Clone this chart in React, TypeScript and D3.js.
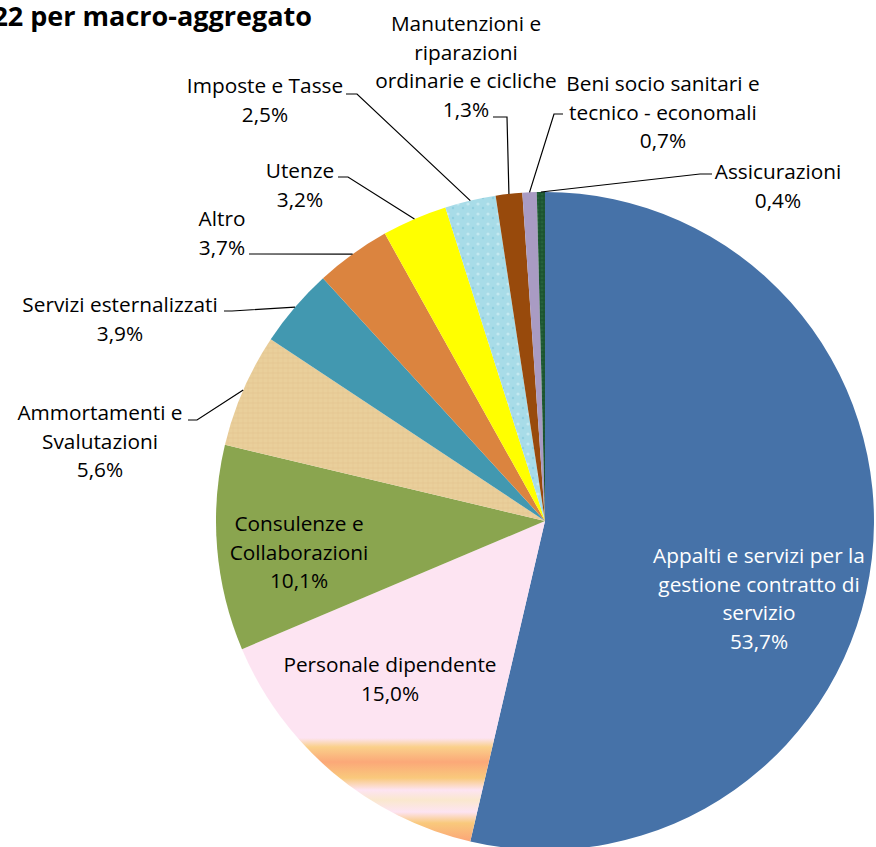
import React from "react";
import * as d3 from "d3";

const categories = [
  "Appalti e servizi per la gestione contratto di servizio",
  "Personale dipendente",
  "Consulenze e Collaborazioni",
  "Ammortamenti e Svalutazioni",
  "Servizi esternalizzati",
  "Altro",
  "Utenze",
  "Imposte e Tasse",
  "Manutenzioni e riparazioni ordinarie e cicliche",
  "Beni socio sanitari e tecnico - economali",
  "Assicurazioni",
];
const values = [53.7, 15.0, 10.1, 5.6, 3.9, 3.7, 3.2, 2.5, 1.3, 0.7, 0.4];
const labelLines = [
  ["Appalti e servizi per la", "gestione contratto di", "servizio"],
  ["Personale dipendente"],
  ["Consulenze e", "Collaborazioni"],
  ["Ammortamenti e", "Svalutazioni"],
  ["Servizi esternalizzati"],
  ["Altro"],
  ["Utenze"],
  ["Imposte e Tasse"],
  ["Manutenzioni e", "riparazioni", "ordinarie e cicliche"],
  ["Beni socio sanitari e", "tecnico - economali"],
  ["Assicurazioni"],
];
const fills = [
  "#4672A8",
  "url(#gradPersonale)",
  "#8AA54F",
  "url(#patPapyrus)",
  "#4298B0",
  "#DB843F",
  "#FFFF00",
  "url(#patDrops)",
  "#984A0C",
  "#A99BC3",
  "url(#patMarble)",
];

// layout of labels (center x, first baseline y), leader start & hook
type Lay = { cx: number; y: number; color?: string; lead?: { x: number; y: number; hx: number } };
const layout: Lay[] = [
  { cx: 759, y: 563, color: "#fff" },
  { cx: 390, y: 672 },
  { cx: 299, y: 531 },
  { cx: 100, y: 420, lead: { x: 188, y: 420, hx: 197 } },
  { cx: 120, y: 312, lead: { x: 224, y: 311, hx: 232 } },
  { cx: 222, y: 226, lead: { x: 249, y: 254, hx: 258 } },
  { cx: 300, y: 178, lead: { x: 338, y: 177, hx: 348 } },
  { cx: 265, y: 93, lead: { x: 346, y: 94, hx: 357 } },
  { cx: 466, y: 31, lead: { x: 493, y: 117, hx: 507 } },
  { cx: 663, y: 91, lead: { x: 563, y: 114, hx: 554 } },
  { cx: 778, y: 179, lead: { x: 712, y: 174, hx: 700 } },
];

const W = 876;
const H = 847;
const CX = 545;
const CY = 521;
const R = 329;
const LH = 28.7;

export default function App() {
  const pie = d3
    .pie<number>()
    .sort(null)
    .value((d) => d);
  const arcs = pie(values);
  const arc = d3.arc<d3.PieArcDatum<number>>().innerRadius(0).outerRadius(R);
  const fmt = (v: number) => v.toFixed(1).replace(".", ",") + "%";

  return (
    <svg
      width={W}
      height={H}
      style={{ position: "absolute", left: 0, top: 0, background: "#fff" }}
      fontFamily="'Open Sans', Lato, sans-serif"
    >
      <defs>
        <linearGradient id="gradPersonale" gradientUnits="userSpaceOnUse" x1="0" y1="0" x2="0" y2={R}>
          <stop offset="0.0" stopColor="#FDE4F2" />
          <stop offset={(738 - CY) / R} stopColor="#FDE4F2" />
          <stop offset={(747 - CY) / R} stopColor="#FAD08A" />
          <stop offset={(762 - CY) / R} stopColor="#FBA878" />
          <stop offset={(778 - CY) / R} stopColor="#F9C97C" />
          <stop offset={(790 - CY) / R} stopColor="#FDE4F2" />
          <stop offset={(800 - CY) / R} stopColor="#FAE8CE" />
          <stop offset={(812 - CY) / R} stopColor="#FDE4F2" />
          <stop offset={(823 - CY) / R} stopColor="#F9C97C" />
          <stop offset={(840 - CY) / R} stopColor="#FBA878" />
          <stop offset="1" stopColor="#FBA878" />
        </linearGradient>
        <pattern id="patPapyrus" patternUnits="userSpaceOnUse" width="5" height="5">
          <rect width="5" height="5" fill="#E9CF9B" />
          <line x1="0" y1="2" x2="5" y2="2" stroke="#DEC08A" strokeWidth="0.5" />
          <line x1="3" y1="0" x2="3" y2="5" stroke="#E2C48F" strokeWidth="0.5" />
        </pattern>
        <pattern id="patDrops" patternUnits="userSpaceOnUse" width="10" height="10">
          <rect width="10" height="10" fill="#A8DCE8" />
          <circle cx="3" cy="3" r="1.6" fill="#C4E9F1" />
          <circle cx="8" cy="7" r="1.2" fill="#8FCFDF" />
        </pattern>
        <pattern id="patMarble" patternUnits="userSpaceOnUse" width="4" height="4">
          <rect width="4" height="4" fill="#1E5833" />
          <circle cx="1" cy="1" r="0.6" fill="#3C7E52" />
          <circle cx="3" cy="3" r="0.5" fill="#123B22" />
        </pattern>
      </defs>

      <text x={312} y={26} textAnchor="end" fontSize={27} fontWeight="bold" fill="#000">
        2022 per macro-aggregato
      </text>

      <g transform={`translate(${CX},${CY})`}>
        {arcs.map((a, i) => (
          <path key={categories[i]} d={arc(a) || ""} fill={fills[i]} />
        ))}
      </g>

      {arcs.map((a, i) => {
        const L = layout[i];
        if (!L.lead) return null;
        const mid = (a.startAngle + a.endAngle) / 2;
        const px = CX + R * Math.sin(mid);
        const py = CY - R * Math.cos(mid);
        return (
          <polyline
            key={"lead" + i}
            points={`${L.lead.x},${L.lead.y} ${L.lead.hx},${L.lead.y} ${px},${py}`}
            fill="none"
            stroke="#000"
            strokeWidth={1.2}
          />
        );
      })}

      {arcs.map((a, i) => {
        const L = layout[i];
        const lines = [...labelLines[i], fmt(values[i])];
        return (
          <text key={"lab" + i} x={L.cx} y={L.y} textAnchor="middle" fontSize={20.8} fill={L.color || "#000"}>
            {lines.map((t, j) => (
              <tspan key={j} x={L.cx} y={L.y + j * LH}>
                {t}
              </tspan>
            ))}
          </text>
        );
      })}
    </svg>
  );
}
